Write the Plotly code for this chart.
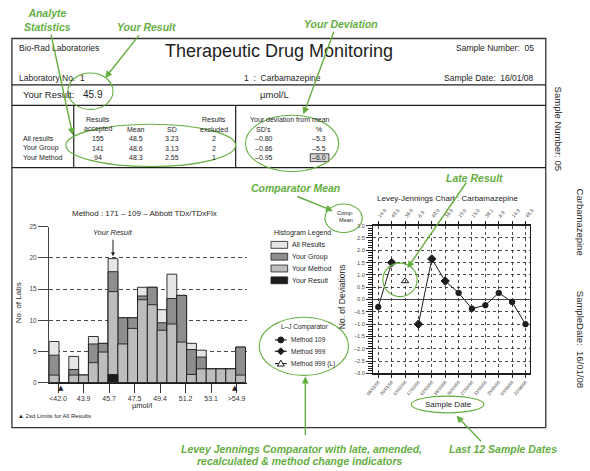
import plotly.graph_objects as go

W, H = 590, 471
def px(x): return x / W
def py(y): return 1 - y / H

GREEN = "#64ae3f"
INK = "#1e1e1e"
FONT = "Liberation Sans, Arial, Helvetica, sans-serif"

# ---------------- data ----------------
analyte = "Carbamazepine"
lab_name = "Bio-Rad Laboratories"
report_title = "Therapeutic Drug Monitoring"
sample_number = "05"
sample_date = "16/01/08"
lab_no = "1"
your_result = "45.9"
units = "µmol/L"

stat_rows = ["All results", "Your Group", "Your Method"]
stat_accepted = [155, 141, 94]
stat_mean = [48.5, 48.6, 48.3]
stat_sd = [3.23, 3.13, 2.55]
stat_excluded = [2, 2, 1]
dev_sd = [-0.80, -0.86, -0.95]
dev_pct = [-5.3, -5.5, -6.0]

hist_bins = list(range(20))
hist_all    = [6.6, 0, 4.2, 1.2, 7.4, 6.3, 19.9, 10.4, 10.4, 15.3, 15.3, 11.7, 17.4, 14.0, 6.3, 5.2, 2.2, 2.2, 2.2, 5.7]
hist_group  = [4.4, 0, 2.1, 1.2, 6.2, 6.3, 17.8, 10.4, 10.4, 13.9, 15.3, 9.6, 13.5, 14.0, 5.3, 4.1, 2.2, 2.2, 2.2, 5.7]
hist_method = [1.2, 0, 1.2, 1.2, 3.2, 4.9, 14.6, 6.2, 8.7, 13.3, 12.5, 8.4, 9.4, 6.5, 1.3, 2.2, 2.2, 2.2, 2.2, 1.2]
hist_result = [0, 0, 0, 0, 0, 0, 1.3, 0, 0, 0, 0, 0, 0, 0, 0, 0, 0, 0, 0, 0]
hist_tick_pos = [0.4, 3.0, 5.6, 8.2, 10.8, 13.4, 16.0, 18.6]
hist_tick_text = ["<42.0", "43.9", "45.7", "47.5", "49.4", "51.2", "53.1", ">54.9"]
hist_y_ticks = [0, 5, 10, 15, 20, 25]
limit_pos = [0.7, 18.4]

lj_dates = ["06/01/08", "20/01/08", "03/02/08", "17/02/08", "02/03/08", "16/03/08",
            "30/03/08", "27/04/08", "11/05/08", "25/05/08", "08/06/08", "22/06/08"]
lj_means = ["14.9", "49.5", "38.0", "8.9", "49.0", "38.9", "10.0", "15.0", "38.1", "8.9", "14.9", "48.3"]
lj_sdi = [-0.3, 1.5, 0.75, -1.0, 1.65, 0.75, 0.27, -0.37, -0.23, 0.27, -0.1, -1.0]
lj_method = ["109", "999", "999L", "999", "999", "999", "109", "109", "109", "109", "109", "109"]

# ---------------- figure ----------------
fig = go.Figure()

C_ALL, C_GROUP, C_METHOD, C_RESULT = "#e6e6e6", "#8e8e8e", "#bdbdbd", "#1c1c1c"
for vals, col in [(hist_all, C_ALL), (hist_group, C_GROUP), (hist_method, C_METHOD), (hist_result, C_RESULT)]:
    fig.add_trace(go.Bar(x=hist_bins, y=vals, width=1, marker=dict(color=col, line=dict(color=INK, width=0.9)),
                         xaxis="x", yaxis="y", hoverinfo="skip"))

idx = list(range(len(lj_sdi)))
# invisible trace so the top (comparator mean) axis is drawn
fig.add_trace(go.Scatter(x=idx, y=lj_sdi, mode="markers", marker=dict(opacity=0),
                         xaxis="x3", yaxis="y2", hoverinfo="skip"))
# LJ line (break at late result)
line_y = [None if m.endswith("L") else v for v, m in zip(lj_sdi, lj_method)]
fig.add_trace(go.Scatter(x=idx, y=line_y, mode="lines", line=dict(color=INK, width=1),
                         connectgaps=False, xaxis="x2", yaxis="y2", hoverinfo="skip"))
sym = {"109": ("circle", 5.5), "999": ("diamond", 6.5), "999L": ("triangle-up-open", 6.5)}
for m, (s, sz) in sym.items():
    xs = [i for i in idx if lj_method[i] == m]
    ys = [lj_sdi[i] for i in xs]
    fig.add_trace(go.Scatter(x=xs, y=ys, mode="markers",
                             marker=dict(symbol=s, size=sz, color=INK, line=dict(color=INK, width=1)),
                             xaxis="x2", yaxis="y2", hoverinfo="skip"))

fig.update_layout(
    width=W, height=H, margin=dict(l=0, r=0, t=0, b=0), autosize=False,
    paper_bgcolor="white", plot_bgcolor="rgba(0,0,0,0)", showlegend=False, barmode="overlay",
    xaxis=dict(domain=[px(43), px(245)], range=[-0.5, 19.7], anchor="y",
               tickvals=hist_tick_pos, ticktext=hist_tick_text, ticks="outside", ticklen=9,
               tickcolor="#333", showline=True, linecolor=INK, linewidth=1, showgrid=False,
               zeroline=False, tickfont=dict(family=FONT, size=7, color="#333"), fixedrange=True),
    yaxis=dict(domain=[py(384.3), py(226.2)], range=[0, 25], anchor="x",
               tickvals=hist_y_ticks, ticks="outside", ticklen=10, tickcolor="#444",
               showline=True, linecolor="#444", linewidth=1.2,
               showgrid=True, gridcolor=INK, griddash="4px,3px", gridwidth=0.8,
               zeroline=False, tickfont=dict(family=FONT, size=6.5, color="#444"), layer="below traces"),
    xaxis2=dict(domain=[px(373), px(533)], range=[-0.39, 11.34], anchor="y2",
                tickvals=idx, ticktext=lj_dates, tickangle=-50, ticks="outside", ticklen=3,
                tickcolor=INK, showline=True, linecolor=INK, linewidth=1.2,
                showgrid=True, gridcolor=INK, griddash="3px,3px", gridwidth=0.8, zeroline=False,
                tickfont=dict(family=FONT, size=4.5, color="#444")),
    xaxis3=dict(domain=[px(373), px(533)], range=[-0.39, 11.34], anchor="y2", overlaying="x2", side="top",
                tickvals=idx, ticktext=lj_means, tickangle=-50, ticks="outside", ticklen=3,
                tickcolor=INK, showline=True, linecolor=INK, linewidth=1.8, showgrid=False, zeroline=False,
                tickfont=dict(family=FONT, size=5, color="#444")),
    yaxis2=dict(domain=[py(375), py(225)], range=[-3, 3], anchor="x2", dtick=0.5, tickformat=".1f",
                ticks="outside", ticklen=6, tickcolor=INK,
                minor=dict(dtick=0.1, ticks="outside", ticklen=4, tickcolor=INK, showgrid=False),
                showline=True, mirror=True, linecolor=INK, linewidth=1.2,
                showgrid=True, gridcolor=INK, griddash="3px,3px", gridwidth=0.8,
                zeroline=True, zerolinecolor="#444", zerolinewidth=1.2,
                tickfont=dict(family=FONT, size=5.5, color="#444")),
)

ann = []
shapes = []

def T(x, y, text, size=8, anchor="center", color=INK, angle=0, yanchor="middle"):
    ann.append(dict(x=px(x), y=py(y), xref="paper", yref="paper", text=text,
                    showarrow=False, xanchor=anchor, yanchor=yanchor, textangle=angle,
                    font=dict(family=FONT, size=size, color=color)))

def A(x0, y0, x1, y1, color=GREEN, width=1.4, head=2, size=1.0):
    ann.append(dict(x=px(x1), y=py(y1), xref="paper", yref="paper", ax=x0 - x1, ay=y0 - y1,
                    text="", showarrow=True, arrowhead=head, arrowsize=size, arrowwidth=width,
                    arrowcolor=color, standoff=0, startstandoff=0))

def L(x0, y0, x1, y1, color=INK, width=1.2):
    shapes.append(dict(type="line", xref="paper", yref="paper", x0=px(x0), y0=py(y0), x1=px(x1), y1=py(y1),
                       line=dict(color=color, width=width)))

def R(x0, y0, x1, y1, fill=None, color=INK, width=1.0, layer="above"):
    shapes.append(dict(type="rect", xref="paper", yref="paper", x0=px(x0), y0=py(y0), x1=px(x1), y1=py(y1),
                       fillcolor=fill, line=dict(color=color, width=width), layer=layer))

def E(x0, y0, x1, y1, color=GREEN, width=1.1):
    shapes.append(dict(type="circle", xref="paper", yref="paper", x0=px(x0), y0=py(y0), x1=px(x1), y1=py(y1),
                       line=dict(color=color, width=width)))

def P(path_pts, fill=INK, color=INK, width=1):
    d = "M " + " L ".join(f"{px(a)},{py(b)}" for a, b in path_pts) + " Z"
    shapes.append(dict(type="path", xref="paper", yref="paper", path=d, fillcolor=fill,
                       line=dict(color=color, width=width)))

# ---- frame ----
R(5, 35, 549, 430, color="#333", width=1.3)
L(5, 82, 549, 82); L(5, 103, 549, 103); L(5, 166, 549, 166)
L(68, 103, 68, 166); L(233, 103, 233, 166)

# ---- header text ----
T(10, 45, lab_name, 8.5, "left")
T(277, 48, report_title, 18)
T(539, 45, f"Sample Number:  {sample_number}", 8.5, "right")
T(10, 75, f"Laboratory No.  {lab_no}", 8.5, "left")
T(239, 75, f"1  :  {analyte}", 8.5, "left")
T(539, 75, f"Sample Date:  {sample_date}", 8.5, "right")
T(14, 92, "Your Result:", 9.5, "left")
T(75, 92, your_result, 10, "left")
T(256, 92, units, 9.5, "left")

# ---- statistics table ----
cols = [93, 131, 168, 211]
T(cols[0], 117, "Results", 7); T(cols[0], 127, "accepted", 7)
T(cols[1], 127, "Mean", 7); T(cols[2], 127, "SD", 7)
T(cols[3], 117, "Results", 7); T(cols[3], 127, "excluded", 7)
T(246, 117, "Your deviation from mean", 7, "left")
T(261, 127, "SD's", 7); T(318, 127, "%", 7)
R(309, 152, 328, 160, fill="#d4d4d4", color=INK, width=0.8, layer="below")
rows_y = [137, 146.5, 156]
for i, yy in enumerate(rows_y):
    T(14, yy, stat_rows[i], 7, "left")
    T(cols[0], yy, f"{stat_accepted[i]}", 7)
    T(cols[1], yy, f"{stat_mean[i]:.1f}", 7)
    T(cols[2], yy, f"{stat_sd[i]:.2f}", 7)
    T(cols[3], yy, f"{stat_excluded[i]}", 7)
    T(262, yy, f"{dev_sd[i]:.2f}".replace("-", "\u2013"), 7)
    T(318, yy, f"{dev_pct[i]:.1f}".replace("-", "\u2013"), 7)

# ---- rotated side text ----
T(562, 126, f"Sample Number: {sample_number}", 9.5, angle=90)
T(584, 221, analyte, 9.5, angle=90)
T(584, 340, f"SampleDate:  {sample_date}", 9.5, angle=90)

# ---- histogram text ----
T(140, 213, "Method : 171 \u2013 109 \u2013 Abbott TDx/TDxFlx", 8)
T(12, 303, "No. of Labs", 8, angle=-90)
T(138, 408, "µmol/l", 7.5)
T(108, 232, "<i>Your Result</i>", 7.5)
A(108, 238, 108, 256, color=INK, width=1, head=2, size=0.8)
for lp in limit_pos:
    ann.append(dict(x=lp, y=py(389.5), xref="x", yref="paper", text="▲", showarrow=False,
                    xanchor="center", yanchor="middle", font=dict(family="DejaVu Sans", size=7, color=INK)))
T(9, 418, "▲ 2sd Limits for All Results", 6, "left")

# histogram legend
T(270, 232, "Histogram Legend", 7, "left")
leg = [("All Results", C_ALL), ("Your Group", C_GROUP), ("Your Method", C_METHOD), ("Your Result", C_RESULT)]
for k, (lab, col) in enumerate(leg):
    yc = 244.5 + 12 * k
    R(269, yc - 3.5, 286, yc + 3.5, fill=col, color=INK, width=0.8)
    T(288, yc, lab, 7, "left")

# ---- LJ chart text ----
T(375, 197, f"Levey-Jennings Chart : {analyte}", 8, "left")
T(341, 297, "No. of Deviations", 8.5, angle=-90)
T(345, 212, "Comp-", 5.5); T(345, 219.5, "Mean", 5.5)
T(450, 407, "Sample Date", 8)

# LJ legend
T(303, 328, "L\u2013J Comparator", 6.5)
leg_y = [341, 352.5, 365]
leg_lab = ["Method 109", "Method 999", "Method 999 (L)"]
for k, yy in enumerate(leg_y):
    L(273, yy, 285, yy, width=1.2)
    T(287, yy, leg_lab[k], 6.5, "left")
cx = 279
shapes.append(dict(type="circle", xref="paper", yref="paper", x0=px(cx - 3), x1=px(cx + 3),
                   y0=py(leg_y[0] - 3), y1=py(leg_y[0] + 3), fillcolor=INK, line=dict(color=INK, width=1)))
P([(cx, leg_y[1] - 3.5), (cx + 3.5, leg_y[1]), (cx, leg_y[1] + 3.5), (cx - 3.5, leg_y[1])])
P([(cx, leg_y[2] - 3.5), (cx + 3.5, leg_y[2] + 2.5), (cx - 3.5, leg_y[2] + 2.5)], fill="white")

# ---- green callouts ----
gfont = 10.5
T(41, 16, "<b><i>Analyte<br>Statistics</i></b>", gfont, color=GREEN)
T(142, 23, "<b><i>Your Result</i></b>", gfont, color=GREEN)
T(340, 20, "<b><i>Your Deviation</i></b>", gfont, color=GREEN)
T(294, 187, "<b><i>Comparator Mean</i></b>", gfont, color=GREEN)
T(476, 177, "<b><i>Late Result</i></b>", gfont, color=GREEN)
T(300, 452, "<b><i>Levey Jennings Comparator with late, amended,</i></b>", gfont, color=GREEN)
T(299, 464, "<b><i>recalculated &amp; method change indicators</i></b>", gfont, color=GREEN)
T(505, 452, "<b><i>Last 12 Sample Dates</i></b>", gfont, color=GREEN)

E(62, 70, 108, 107)
E(60, 122, 233, 165)
E(243, 113, 338, 170)
E(324, 203, 362, 232)
E(383, 263, 418, 297)
E(257, 318, 348, 377)
E(412, 398, 486, 415)

A(45, 31, 67, 133)
A(135, 31, 100, 75)
A(333, 28, 302, 112)
A(295, 195, 332, 210)
A(468, 181, 408, 268)
A(304, 438, 304, 378)
A(484, 445, 458, 418)

fig.update_layout(annotations=ann, shapes=shapes)
fig.write_html("out.html", config={"displayModeBar": False, "staticPlot": True},
               post_script="document.body.style.margin='0';document.body.style.padding='0';")
